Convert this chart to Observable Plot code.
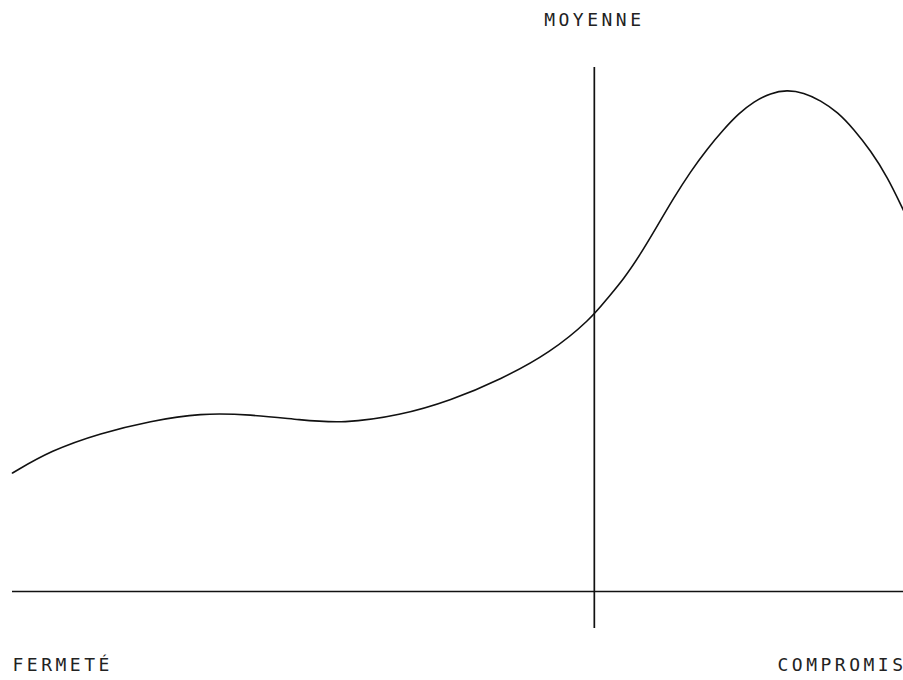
<!DOCTYPE html>
<html>
<head>
<meta charset="utf-8">
<script src="https://cdn.jsdelivr.net/npm/d3@7"></script>
<script src="https://cdn.jsdelivr.net/npm/@observablehq/plot@0.6"></script>
<style>
  html, body { margin: 0; padding: 0; background: #fff; overflow: hidden; }
  #chart { width: 903px; height: 680px; overflow: hidden; }
</style>
</head>
<body>
<div id="chart"></div>
<script>
// Position along the scale (0 = fermeté, 100 = compromis)
const positions = [0, 4.3, 9.9, 15.5, 21.1, 26.7, 32.3, 37.1, 43.5, 49.2, 54.8, 60.4, 64.9, 66.7, 68.6, 70.5, 72.4, 74.2, 76.1, 78.0, 79.8, 81.5, 83.2, 85.1, 86.9, 88.8, 90.7, 92.6, 94.4, 96.3, 98.2, 100];
// Density values
const densities = [23.7, 28.2, 31.7, 34.1, 35.7, 35.4, 34.3, 33.6, 35.2, 38.2, 42.4, 47.8, 54.5, 58.5, 62.5, 67.5, 73.2, 78.7, 84.0, 88.6, 92.4, 95.6, 98.0, 99.7, 100.3, 99.8, 98.2, 95.9, 92.5, 88.2, 82.9, 76.2];
// Mean position
const meanValue = [65.3];
// Labels
const labelTop = "MOYENNE";
const labelLeft = "FERMETÉ";
const labelRight = "COMPROMIS";

const data = positions.map((x, i) => ({x, y: densities[i]}));

const font = "'DejaVu Sans Mono', 'Liberation Mono', monospace";
const fs = 18;

const chart = Plot.plot({
  width: 903,
  height: 680,
  marginLeft: 12,
  marginRight: 0,
  marginTop: 67,
  marginBottom: 52,
  x: {domain: [0, 100], axis: null},
  y: {domain: [-7.4, 104.8], axis: null},
  style: {background: "#fff", color: "#111", fontFamily: font, fontSize: fs + "px", overflow: "visible"},
  marks: [
    Plot.ruleY([0], {stroke: "#111", strokeWidth: 1.7}),
    Plot.ruleX(meanValue, {stroke: "#111", strokeWidth: 1.7}),
    Plot.line(data, {x: "x", y: "y", curve: "basis", stroke: "#111", strokeWidth: 1.6}),
    Plot.text([labelTop], {x: meanValue[0], text: d => d, frameAnchor: "top", textAnchor: "middle", lineAnchor: "middle", dx: 0, dy: -47, fill: "#222", fontSize: fs, fontFamily: font}),
    Plot.text([labelLeft], {text: d => d, frameAnchor: "bottom-left", textAnchor: "start", lineAnchor: "middle", dy: 37, fill: "#222", fontSize: fs, fontFamily: font}),
    Plot.text([labelRight], {text: d => d, frameAnchor: "bottom-right", textAnchor: "start", lineAnchor: "middle", dx: -126, dy: 37, fill: "#222", fontSize: fs, fontFamily: font})
  ]
});
chart.querySelectorAll("text").forEach(t => t.setAttribute("letter-spacing", "3.5px"));
document.getElementById("chart").appendChild(chart);
</script>
</body>
</html>
